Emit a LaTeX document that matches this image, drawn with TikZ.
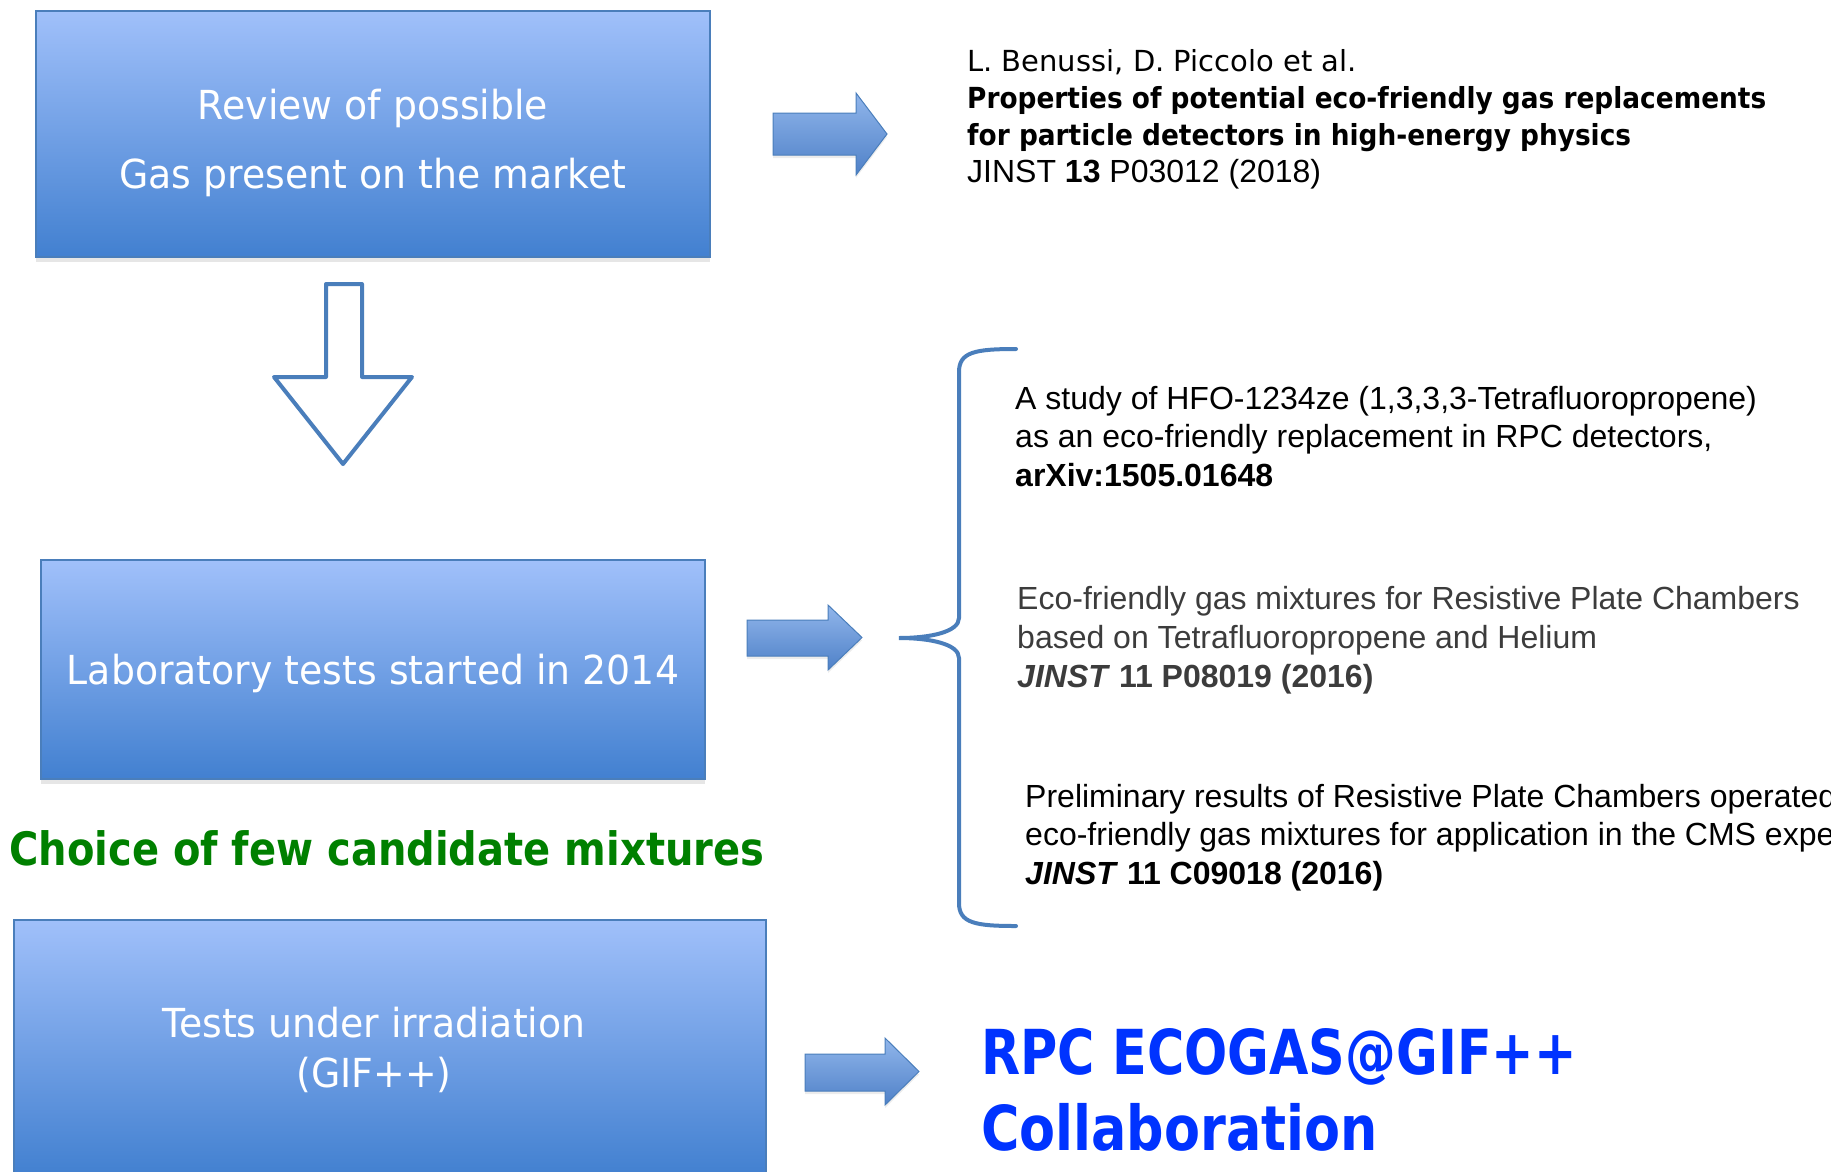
\documentclass[tikz,border=0pt]{standalone}
\usepackage{fontspec}
\setmainfont{DejaVu Sans}
\newfontfamily\helv{Liberation Sans}
\usetikzlibrary{shadows}

\definecolor{boxtop}{RGB}{160,192,250}
\definecolor{boxbot}{RGB}{66,128,208}
\definecolor{boxline}{RGB}{74,126,187}
\definecolor{arrtop}{RGB}{145,182,235}
\definecolor{arrbot}{RGB}{79,129,200}
\definecolor{choicegreen}{RGB}{0,128,0}
\definecolor{ecoblue}{RGB}{0,51,255}
\definecolor{refgrey}{RGB}{60,60,60}

\newcommand{\narrow}[1]{\addfontfeatures{FakeStretch=#1}}

\begin{document}
\begin{tikzpicture}[x=1bp,y=-1bp,
  stepbox/.style={draw=boxline, line width=1.5bp, top color=boxtop, bottom color=boxbot,
    drop shadow={opacity=0.2, shadow xshift=0bp, shadow yshift=-5bp}},
  steptext/.style={text=white, align=center, inner sep=0pt,
    font=\fontsize{40bp}{69bp}\selectfont\narrow{0.945}},
  rarrow/.style={draw=boxline, line width=1bp, top color=arrtop, bottom color=arrbot,
    drop shadow={opacity=0.15, shadow xshift=0bp, shadow yshift=-3bp}},
  darrow/.style={draw=boxline, line width=4bp, fill=white, line join=round},
  brace/.style={draw=boxline, line width=4bp, line cap=round},
  reftext/.style={anchor=north west, inner sep=0pt, align=left}]

  \useasboundingbox (0,0) rectangle (1831,1171);
  \clip (0,0) rectangle (1831,1171);

  % the three steps
  \node[stepbox, minimum width=674bp, minimum height=246bp] (review) at (373,134) {};
  \node[steptext] (reviewtext) at ([yshift=-9bp]review.center)
    {Review of possible\\Gas present on the market};
  \node[stepbox, minimum width=664bp, minimum height=219bp] (labtests) at (373,669.5) {};
  \node[steptext] (labtext) at ([yshift=-4bp]labtests.center)
    {Laboratory tests started in 2014};
  \node[stepbox, minimum width=752bp, minimum height=256bp] (irradiation) at (390,1048) {};
  \node[steptext, font=\fontsize{40bp}{50bp}\selectfont\narrow{0.945}] (irradtext)
    at ([xshift=-16bp,yshift=-2bp]irradiation.center)
    {Tests under irradiation\\(GIF++)};

  \node[anchor=west, inner sep=0pt, text=choicegreen,
    font=\bfseries\fontsize{46bp}{52bp}\selectfont\narrow{0.87}] (choice) at (9,848)
    {Choice of few candidate mixtures};

  % down arrow
  \draw[darrow] (326,284) -- (362,284) -- (362,377) -- (412,377) -- (343,464)
    -- (274,377) -- (326,377) -- cycle;

  % right arrows
  \draw[rarrow] (773,113) -- (856,113) -- (856,93) -- (887,134) -- (856,175)
    -- (856,155) -- (773,155) -- cycle;
  \draw[rarrow] (747,620) -- (828,620) -- (828,605) -- (862,637.5) -- (828,670)
    -- (828,656) -- (747,656) -- cycle;
  \draw[rarrow] (805,1054) -- (885,1054) -- (885,1038) -- (919,1071.5) -- (885,1105)
    -- (885,1091) -- (805,1091) -- cycle;

  % references
  \node[reftext, font=\fontsize{29bp}{37bp}\selectfont] (benussi) at (967,49)
    {L. Benussi, D. Piccolo et al.\\
     {\bfseries\narrow{0.91}Properties of potential eco-friendly gas replacements}\\
     {\bfseries\narrow{0.91}for particle detectors in high-energy physics}\\
     {\helv\fontsize{32bp}{37bp}\selectfont JINST \textbf{13} P03012 (2018)}};

  \draw[brace] (1016,349) .. controls (975,349) and (959,352) .. (959,372)
    -- (959,618) .. controls (959,632) and (930,638) .. (899,638)
    .. controls (930,638) and (959,644) .. (959,658)
    -- (959,903) .. controls (959,923) and (975,926) .. (1016,926);

  \node[reftext, font=\helv\fontsize{32bp}{38.5bp}\selectfont] (hfo) at (1015,386)
    {A study of HFO-1234ze (1,3,3,3-Tetrafluoropropene)\\
     as an eco-friendly replacement in RPC detectors,\\
     \textbf{arXiv:1505.01648}};
  \node[reftext, text=refgrey, font=\helv\fontsize{32bp}{39bp}\selectfont] (helium) at (1017,586)
    {Eco-friendly gas mixtures for Resistive Plate Chambers\\
     based on Tetrafluoropropene and Helium\\
     \textbf{\textit{JINST} 11 P08019 (2016)}};
  \node[reftext, font=\helv\fontsize{32bp}{38.5bp}\selectfont] (cms) at (1025,784)
    {Preliminary results of Resistive Plate Chambers operated\\
     eco-friendly gas mixtures for application in the CMS experiment\\
     \textbf{\textit{JINST} 11 C09018 (2016)}};

  \node[reftext, text=ecoblue, font=\bfseries\fontsize{62bp}{76bp}\selectfont\narrow{0.82}]
    (ecogas) at (981,1028)
    {RPC ECOGAS@GIF++\\{\narrow{0.845}Collaboration}};
\end{tikzpicture}
\end{document}
